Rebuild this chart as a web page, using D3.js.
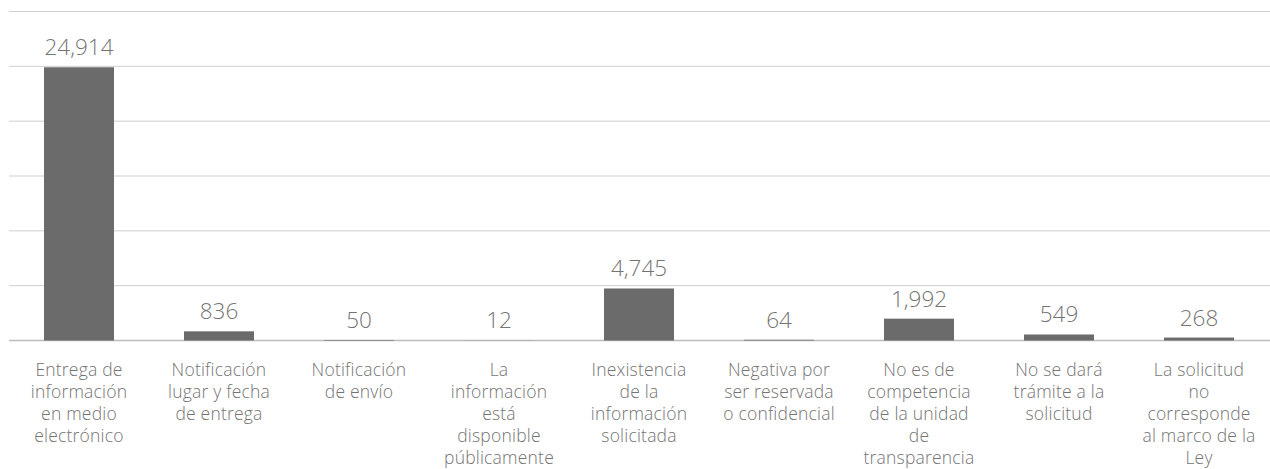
<!DOCTYPE html>
<html>
<head>
<meta charset="utf-8">
<script src="https://cdn.jsdelivr.net/npm/d3@7"></script>
<style>
  html, body { margin: 0; padding: 0; background: #fff; }
  svg { display: block; }
</style>
</head>
<body>
<script>
const categories = [
  ["Entrega de", "información", "en medio", "electrónico"],
  ["Notificación", "lugar y fecha", "de entrega"],
  ["Notificación", "de envío"],
  ["La", "información", "está", "disponible", "públicamente"],
  ["Inexistencia", "de la", "información", "solicitada"],
  ["Negativa por", "ser reservada", "o confidencial"],
  ["No es de", "competencia", "de la unidad", "de", "transparencia"],
  ["No se dará", "trámite a la", "solicitud"],
  ["La solicitud", "no", "corresponde", "al marco de la", "Ley"]
];
const values = [24914, 836, 50, 12, 4745, 64, 1992, 549, 268];
const gridTicks = [0, 5000, 10000, 15000, 20000, 25000, 30000];

const W = 1270, H = 469;
const font = "'Open Sans', sans-serif";
const textColor = "#747474";

const svg = d3.select("body").append("svg")
  .attr("width", W).attr("height", H);

const idx = d3.range(values.length);
const x = d3.scaleBand().domain(idx).range([9, 1269])
  .paddingInner(0.5).paddingOuter(0.25);
const y = d3.scaleLinear().domain([0, 30000]).range([340.5, 11.5]);

// gridlines
svg.append("g").selectAll("line")
  .data(gridTicks)
  .join("line")
  .attr("x1", 9).attr("x2", W)
  .attr("y1", d => y(d)).attr("y2", d => y(d))
  .attr("stroke", d => d === 0 ? "#bdbdbd" : "#cfcfcf")
  .attr("stroke-width", d => d === 0 ? 1.5 : 1);

// bars
svg.append("g").selectAll("rect")
  .data(idx)
  .join("rect")
  .attr("x", i => x(i))
  .attr("width", x.bandwidth())
  .attr("y", i => y(values[i]))
  .attr("height", i => y(0) - y(values[i]))
  .attr("fill", "#6b6b6b");

// value labels
svg.append("g").selectAll("text")
  .data(idx)
  .join("text")
  .attr("x", i => x(i) + x.bandwidth() / 2)
  .attr("y", i => y(values[i]) - 12)
  .attr("text-anchor", "middle")
  .attr("font-family", font)
  .attr("font-weight", 300)
  .attr("font-size", 22.5)
  .attr("fill", textColor)
  .text(i => d3.format(",")(values[i]));

// category labels
const lab = svg.append("g").selectAll("text")
  .data(idx)
  .join("text")
  .attr("text-anchor", "middle")
  .attr("font-family", font)
  .attr("font-weight", 300)
  .attr("font-size", 17.5)
  .attr("letter-spacing", 0.2)
  .attr("fill", textColor);

lab.selectAll("tspan")
  .data(i => categories[i].map(t => ({ i, t })))
  .join("tspan")
  .attr("x", d => x(d.i) + x.bandwidth() / 2)
  .attr("y", (d, k) => 376 + k * 22)
  .text(d => d.t);
</script>
</body>
</html>
